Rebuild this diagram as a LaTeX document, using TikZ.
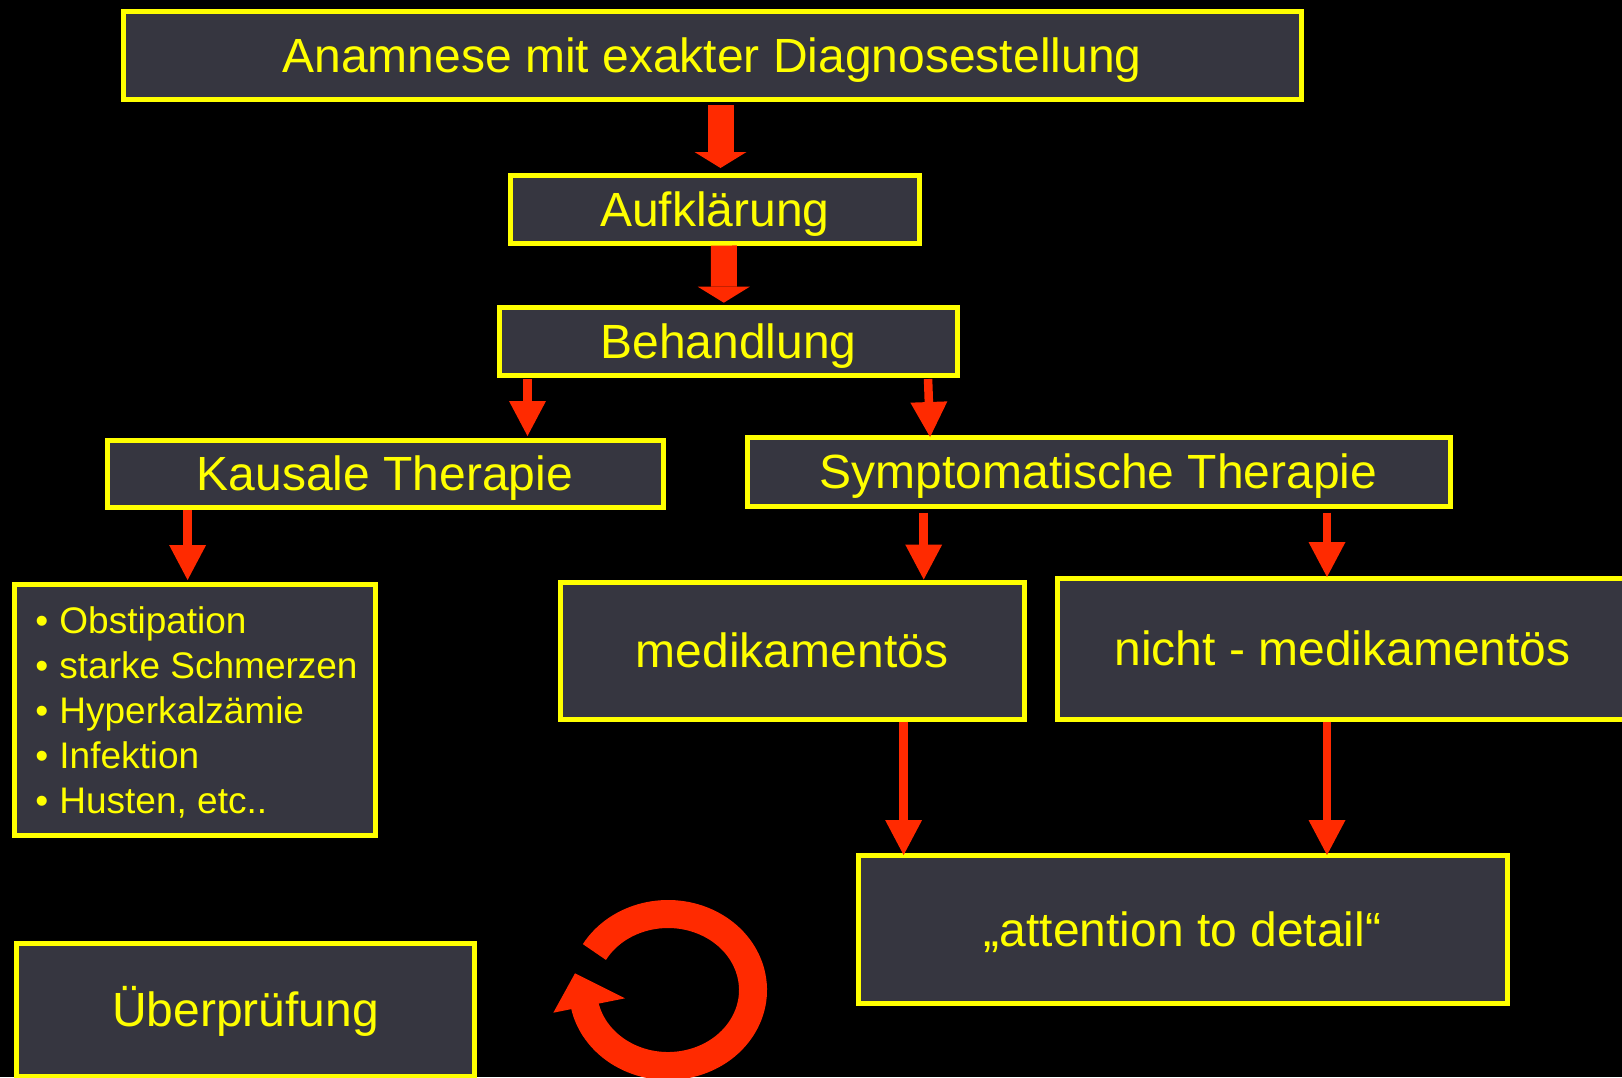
\documentclass[tikz,border=0pt]{standalone}
\usepackage{fontspec}
\setmainfont{Liberation Sans}
\usetikzlibrary{arrows.meta}
\definecolor{bxfill}{RGB}{54,54,64}
\definecolor{bxline}{RGB}{255,255,0}
\definecolor{arr}{RGB}{255,42,0}
\begin{document}
\begin{tikzpicture}[x=1pt,y=-1pt,
  box/.style={draw=bxline, fill=bxfill, line width=5pt, text=bxline,
    font=\fontsize{48pt}{57.6pt}\selectfont, text height=34.4pt, text depth=0pt, inner sep=0pt},
  bigarrow/.style={draw=arr, line width=26pt, -{Triangle[width=52pt,length=16pt,line width=0pt]}},
  smallarrow/.style={draw=arr, line width=8.5pt, -{Triangle[width=37pt,length=35pt,line width=0pt]}}]
\useasboundingbox (0,0) rectangle (1622,1077);
\fill[black] (0,0) rectangle (1622,1077);
\clip (0,0) rectangle (1622,1077);

\node[box, minimum width=1178pt, minimum height=88pt] (A) at (712,55) {Anamnese mit exakter Diagnosestellung};
\node[box, minimum width=408.5pt, minimum height=68pt] (B) at (714.75,209) {Aufklärung};
\node[box, minimum width=458pt, minimum height=68pt] (C) at (728.5,341) {Behandlung};
\node[box, minimum width=556pt, minimum height=67.5pt] (D) at (385,473.75) {Kausale Therapie};
\node[box, minimum width=703pt, minimum height=68.5pt] (E) at (1098.5,471.75) {Symptomatische Therapie};
\node[box, minimum width=361pt, minimum height=251pt] (F) at (195,710) {};
\node[text=bxline, font=\fontsize{37pt}{44.8pt}\selectfont, inner sep=0pt] (Ft) at (196.5,714.6)
  {\begin{tabular}{@{}l@{}}
   \makebox[24pt][l]{•}Obstipation\\
   \makebox[24pt][l]{•}starke Schmerzen\\
   \makebox[24pt][l]{•}Hyperkalzämie\\
   \makebox[24pt][l]{•}Infektion\\
   \makebox[24pt][l]{•}Husten, etc..
  \end{tabular}};
\node[box, minimum width=464pt, minimum height=137pt] (G) at (792,650.5) {medikamentös};
\node[box, minimum width=571pt, minimum height=141pt] (H) at (1342.5,648.5) {nicht - medikamentös};
\node[box, minimum width=649pt, minimum height=148pt] (I) at (1182.5,929) {„attention to detail“};
\node[box, minimum width=458pt, minimum height=132.5pt] (J) at (245.5,1009.75) {Überprüfung};

\draw[bigarrow, shorten <=3.5pt, shorten >=4.5pt] ([xshift=8.5pt]A.south) -- ([xshift=5.75pt]B.north);
\draw[bigarrow, shorten >=1.8pt] ([xshift=9pt]B.south) -- ([xshift=-4.7pt]C.north);
\draw[smallarrow, shorten <=1.5pt, shorten >=1.5pt] ([xshift=-201pt]C.south) -- ([xshift=142.5pt]D.north);
\draw[smallarrow, shorten <=1.5pt, shorten >=-2pt] ([xshift=199.5pt]C.south) -- ([xshift=-168.5pt]E.north);
\draw[smallarrow, shorten >=2pt] ([xshift=-197.4pt]D.south) -- ([xshift=-7.4pt]F.north);
\draw[smallarrow, shorten <=4pt] ([xshift=-174.8pt]E.south) -- ([xshift=131.7pt]G.north);
\draw[smallarrow, shorten <=4pt, shorten >=-1.5pt] ([xshift=228.5pt]E.south) -- ([xshift=-15.5pt]H.north);
\draw[smallarrow, shorten >=-2.5pt] ([xshift=111.6pt]G.south) -- ([xshift=-278.9pt]I.north);
\draw[smallarrow, shorten >=-2.5pt] ([xshift=-15.5pt]H.south) -- ([xshift=144.5pt]I.north);

% circular arrow
\draw[arr, line width=28pt] ([shift={(-150:85 and 76)}]668,990) arc[start angle=-150, end angle=169, x radius=85, y radius=76];
\fill[arr] (575,973.3) -- (625,998.3) -- (553.3,1012.7) -- cycle;
\end{tikzpicture}
\end{document}
